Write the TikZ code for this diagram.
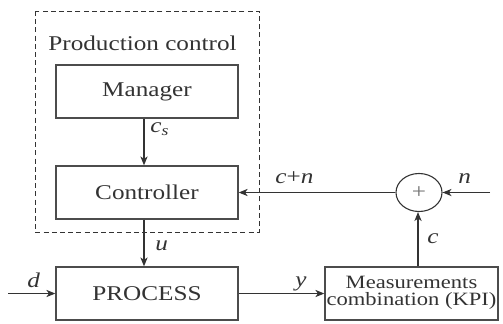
\documentclass[tikz,border=0pt]{standalone}
\usepackage{graphicx}
\usepackage{fontspec}
\setmainfont{Liberation Serif}
\usetikzlibrary{arrows.meta,shapes.geometric}
% wide-set text: the lettering is stretched horizontally
\newcommand{\widetxt}[1]{\scalebox{1.2}[1]{#1}}
\definecolor{ink}{gray}{0.2}
\definecolor{frame}{gray}{0.3}
\tikzset{
  blk/.style={draw=frame, line width=0.65pt, inner sep=0pt, minimum height=26.5pt,
              text=ink, font=\fontsize{10.5}{12.5}\selectfont},
  sumnode/.style={draw=ink, ellipse, line width=0.55pt, inner sep=0pt,
              minimum width=23pt, minimum height=19pt,
              text=black!55, font=\fontsize{10.5}{12.5}\selectfont},
  sig/.style={draw=ink, line width=0.55pt, -{Stealth[length=4.5pt,width=3.6pt,inset=1.3pt]}},
  lbl/.style={inner sep=0pt, anchor=base west, text=ink,
              font=\fontsize{10.5}{12.5}\selectfont\itshape},
  grp/.style={draw=ink, line width=0.5pt, dash pattern=on 2.5pt off 1.6pt}
}
\begin{document}
\begin{tikzpicture}[x=0.5pt,y=-0.5pt]
  \useasboundingbox (0,0) rectangle (503,323);

  % production control group
  \draw[grp] (35,11) rectangle (259,232);
  \node[inner sep=0pt, anchor=base, text=ink, font=\fontsize{10.5}{12.5}\selectfont] (pclabel) at (142.5,50)
    {\widetxt{Production control}};

  % blocks
  \node[blk, minimum width=91pt] (man)  at (147,91.5)  {\widetxt{Manager}};
  \node[blk, minimum width=91pt] (ctl)  at (147,192.5) {\widetxt{Controller}};
  \node[blk, minimum width=91pt] (proc) at (147,293.5) {\widetxt{PROCESS}};
  \node[blk, minimum width=86.5pt, font=\fontsize{9.4}{9.6}\selectfont] (meas) at (411.5,293.5)
    {\widetxt{\begin{tabular}{@{}c@{}}Measurements\\[-1pt]combination (KPI)\end{tabular}}};
  \node[sumnode] (sum) at (419,192.5) {\widetxt{+}};

  % free ends of the inputs
  \coordinate (din) at (8,293.5);
  \coordinate (nin) at (490,192.5);

  % signal connections
  \draw[sig] ([xshift=-1.5pt]man.south) -- ([xshift=-1.5pt]ctl.north);
  \draw[sig] ([xshift=-1.5pt]ctl.south) -- ([xshift=-1.5pt]proc.north);
  \draw[sig] (din) -- (proc.west);
  \draw[sig] (proc.east) -- (meas.west);
  \draw[sig] ([xshift=-0.5pt]sum.south |- meas.north) -- ([xshift=-0.5pt]sum.south);
  \draw[sig] (nin) -- (sum.east);
  \draw[sig] (sum.west) -- (ctl.east);

  % signal labels
  \node[lbl] (lcs) at (150,132) {\widetxt{c\textsubscript{s}}};
  \node[lbl] (lu)  at (155,250) {\widetxt{u}};
  \node[lbl] (ld)  at (27,287)  {\widetxt{d}};
  \node[lbl] (ly)  at (295,286) {\widetxt{y}};
  \node[lbl] (lcn) at (275,183) {\widetxt{c\textup{+}n}};
  \node[lbl] (ln)  at (458,183) {\widetxt{n}};
  \node[lbl] (lc)  at (427,243) {\widetxt{c}};
\end{tikzpicture}
\end{document}
